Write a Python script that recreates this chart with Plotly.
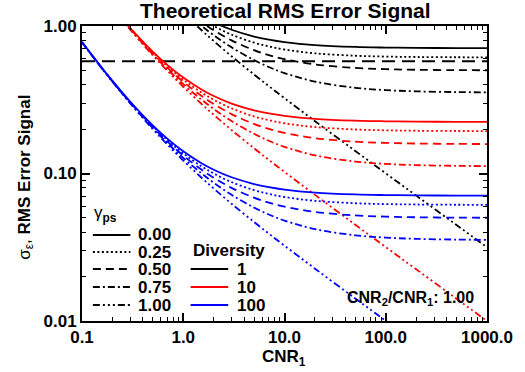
import plotly.graph_objects as go

# CNR_1 sample points (x)
cnr = [0.1, 0.15, 0.2, 0.3, 0.5, 0.7, 1, 1.5, 2, 3, 5, 7, 10, 20, 50, 100, 200, 500, 1000]

# Diversity = 1 (black)
d1_g000 = [7.778, 5.421, 4.243, 3.064, 2.121, 1.717, 1.414, 1.179, 1.061, 0.9428, 0.8485, 0.8081, 0.7778, 0.7425, 0.7212, 0.7142, 0.7106, 0.7085, 0.7078]
d1_g025 = [7.770, 5.410, 4.228, 3.044, 2.092, 1.680, 1.369, 1.124, 1.000, 0.8740, 0.7714, 0.7267, 0.6928, 0.6529, 0.6287, 0.6205, 0.6164, 0.6140, 0.6132]
d1_g050 = [7.762, 5.398, 4.213, 3.023, 2.062, 1.643, 1.323, 1.067, 0.9354, 0.7993, 0.6856, 0.6349, 0.5958, 0.5489, 0.5198, 0.5100, 0.5050, 0.5020, 0.5010]
d1_g075 = [7.754, 5.387, 4.198, 3.002, 2.031, 1.604, 1.275, 1.007, 0.8660, 0.7169, 0.5874, 0.5273, 0.4796, 0.4198, 0.3811, 0.3675, 0.3606, 0.3564, 0.3550]
d1_g100 = [7.746, 5.375, 4.183, 2.982, 2.000, 1.565, 1.225, 0.9428, 0.7906, 0.6236, 0.4690, 0.3912, 0.3240, 0.2264, 0.1421, 0.1003, 0.0708, 0.04475, 0.03164]

# Diversity = 10 (red)
d10_g000 = [2.4596, 1.7143, 1.3416, 0.9689, 0.6708, 0.5430, 0.4472, 0.3728, 0.3354, 0.2981, 0.2683, 0.2555, 0.2460, 0.2348, 0.2281, 0.2259, 0.2247, 0.2240, 0.2238]
d10_g025 = [2.457, 1.7108, 1.337, 0.9626, 0.6615, 0.5313, 0.4329, 0.3554, 0.3162, 0.2764, 0.2439, 0.2298, 0.2191, 0.2065, 0.1988, 0.1962, 0.1949, 0.1942, 0.1939]
d10_g050 = [2.4546, 1.707, 1.3323, 0.9560, 0.6521, 0.5196, 0.4184, 0.3374, 0.2958, 0.2528, 0.2168, 0.2008, 0.1884, 0.1736, 0.1644, 0.1613, 0.1597, 0.1587, 0.1584]
d10_g075 = [2.452, 1.7035, 1.3275, 0.9493, 0.6423, 0.5072, 0.4032, 0.3184, 0.2739, 0.2267, 0.1858, 0.1667, 0.1517, 0.1328, 0.1205, 0.1162, 0.1140, 0.1127, 0.1123]
d10_g100 = [2.4495, 1.6997, 1.3229, 0.9430, 0.6325, 0.4949, 0.3873, 0.2981, 0.2500, 0.1972, 0.1483, 0.1237, 0.1025, 0.0716, 0.04494, 0.0317, 0.0224, 0.01415, 0.0100]

# Diversity = 100 (blue)
d100_g000 = [0.7778, 0.5421, 0.4243, 0.3064, 0.2121, 0.1717, 0.1414, 0.1179, 0.1061, 0.09428, 0.08485, 0.08081, 0.07778, 0.07425, 0.07212, 0.07142, 0.07106, 0.07085, 0.07078]
d100_g025 = [0.7770, 0.5410, 0.4228, 0.3044, 0.2092, 0.1680, 0.1369, 0.1124, 0.1000, 0.08740, 0.07714, 0.07267, 0.06928, 0.06529, 0.06287, 0.06205, 0.06164, 0.06140, 0.06132]
d100_g050 = [0.7762, 0.5398, 0.4213, 0.3023, 0.2062, 0.1643, 0.1323, 0.1067, 0.09354, 0.07993, 0.06856, 0.06349, 0.05958, 0.05489, 0.05198, 0.05100, 0.05050, 0.05020, 0.05010]
d100_g075 = [0.7754, 0.5387, 0.4198, 0.3002, 0.2031, 0.1604, 0.1275, 0.1007, 0.08660, 0.07169, 0.05874, 0.05273, 0.04796, 0.04198, 0.03811, 0.03675, 0.03606, 0.03564, 0.03550]
d100_g100 = [0.7746, 0.5375, 0.4183, 0.2982, 0.2000, 0.1565, 0.1225, 0.09428, 0.07906, 0.06236, 0.04690, 0.03912, 0.03240, 0.02264, 0.01421, 0.01003, 0.00708, 0.00447, 0.00316]

# horizontal reference level
ref_level = [0.577, 0.577]
ref_x = [0.1, 1000]

gamma_labels = ["0.00", "0.25", "0.50", "0.75", "1.00"]
diversity_labels = ["1", "10", "100"]
x_ticks = [0.1, 1, 10, 100, 1000]
x_ticktext = ["0.1", "1.0", "10.0", "100.0", "1000.0"]
y_ticks = [0.01, 0.1, 1]
y_ticktext = ["0.01", "0.10", "1.00"]

colors = ["black", "red", "blue"]
dashes = ["solid", "2px,2.5px", "8px,5px", "7px,3px,2px,3px", "7px,3px,2px,3px,2px,3px,2px,3px"]
series = [
    [d1_g000, d1_g025, d1_g050, d1_g075, d1_g100],
    [d10_g000, d10_g025, d10_g050, d10_g075, d10_g100],
    [d100_g000, d100_g025, d100_g050, d100_g075, d100_g100],
]

FONT = "Liberation Sans, Arial, sans-serif"
fig = go.Figure()

fig.add_trace(go.Scatter(x=ref_x, y=ref_level, mode="lines",
                         line=dict(color="black", width=2, dash="13px,7px"),
                         showlegend=False, hoverinfo="skip"))

for ci, group in enumerate(series):
    for gi, ys in enumerate(group):
        fig.add_trace(go.Scatter(x=cnr, y=ys, mode="lines",
                                 line=dict(color=colors[ci], width=1.8, dash=dashes[gi], shape="spline"),
                                 showlegend=False, hoverinfo="skip"))

L, R, T, B = 82, 33, 26, 51
W, H = 525, 372
PW, PH = W - L - R, H - T - B


def px(x):
    return (x - L) / PW


def py(y):
    return (H - B - y) / PH


annotations = []
shapes = []

# title
annotations.append(dict(text="<b>Theoretical RMS Error Signal</b>", x=px(288), y=py(11),
                        xref="paper", yref="paper", showarrow=False, xanchor="center", yanchor="middle",
                        font=dict(size=21, color="black", family=FONT)))
# x title
annotations.append(dict(text="<b>CNR<sub>1</sub></b>", x=px(286), y=py(358),
                        xref="paper", yref="paper", showarrow=False, xanchor="center", yanchor="middle",
                        font=dict(size=17, color="black", family=FONT)))
# y title
annotations.append(dict(text="σ<sub>ε</sub>, <b>RMS Error Signal</b>", x=px(25), y=py(177),
                        xref="paper", yref="paper", showarrow=False, xanchor="center", yanchor="middle",
                        textangle=-90, font=dict(size=17, color="black", family=FONT)))
# ratio
annotations.append(dict(text="<b>CNR<sub>2</sub>/CNR<sub>1</sub>: 1.00</b>", x=px(481), y=py(298),
                        xref="paper", yref="paper", showarrow=False, xanchor="right", yanchor="middle",
                        font=dict(size=16, color="black", family=FONT)))
# gamma legend
annotations.append(dict(text="γ<b><sub>ps</sub></b>", x=px(92), y=py(214),
                        xref="paper", yref="paper", showarrow=False, xanchor="left", yanchor="middle",
                        font=dict(size=17, color="black", family=FONT)))
rows = [235, 252, 269, 287, 305]
for i, lab in enumerate(gamma_labels):
    shapes.append(dict(type="line", xref="paper", yref="paper", x0=px(93), x1=px(131), y0=py(rows[i]), y1=py(rows[i]),
                       line=dict(color="black", width=2, dash=dashes[i])))
    annotations.append(dict(text="<b>%s</b>" % lab, x=px(137), y=py(rows[i]),
                            xref="paper", yref="paper", showarrow=False, xanchor="left", yanchor="middle",
                            font=dict(size=17, color="black", family=FONT)))
annotations.append(dict(text="<b>Diversity</b>", x=px(192), y=py(250),
                        xref="paper", yref="paper", showarrow=False, xanchor="left", yanchor="middle",
                        font=dict(size=17, color="black", family=FONT)))
for i, lab in enumerate(diversity_labels):
    r = rows[i + 2]
    shapes.append(dict(type="line", xref="paper", yref="paper", x0=px(192), x1=px(230), y0=py(r), y1=py(r),
                       line=dict(color=colors[i], width=2)))
    annotations.append(dict(text="<b>%s</b>" % lab, x=px(237), y=py(r),
                            xref="paper", yref="paper", showarrow=False, xanchor="left", yanchor="middle",
                            font=dict(size=17, color="black", family=FONT)))

axis_common = dict(showgrid=False, zeroline=False, showline=True, linecolor="black", linewidth=2,
                   ticks="inside", ticklen=8, tickwidth=1.5, tickcolor="black", mirror="allticks",
                   tickfont=dict(size=17, color="black", family=FONT, weight="bold"),
                   minor=dict(ticks="inside", ticklen=4, tickwidth=1.2, tickcolor="black", dtick="D1", showgrid=False))

fig.update_xaxes(type="log", range=[-1, 3], tickvals=x_ticks, ticktext=x_ticktext, **axis_common)
fig.update_yaxes(type="log", range=[-2, 0], tickvals=y_ticks, ticktext=y_ticktext, **axis_common)

fig.update_layout(width=W, height=H, margin=dict(l=L, r=R, t=T, b=B),
                  paper_bgcolor="white", plot_bgcolor="white",
                  annotations=annotations, shapes=shapes, showlegend=False,
                  font=dict(family=FONT, color="black"))

fig.write_html("out.html", config={"displayModeBar": False},
               post_script="document.body.style.margin='0';document.body.style.overflow='hidden';")
